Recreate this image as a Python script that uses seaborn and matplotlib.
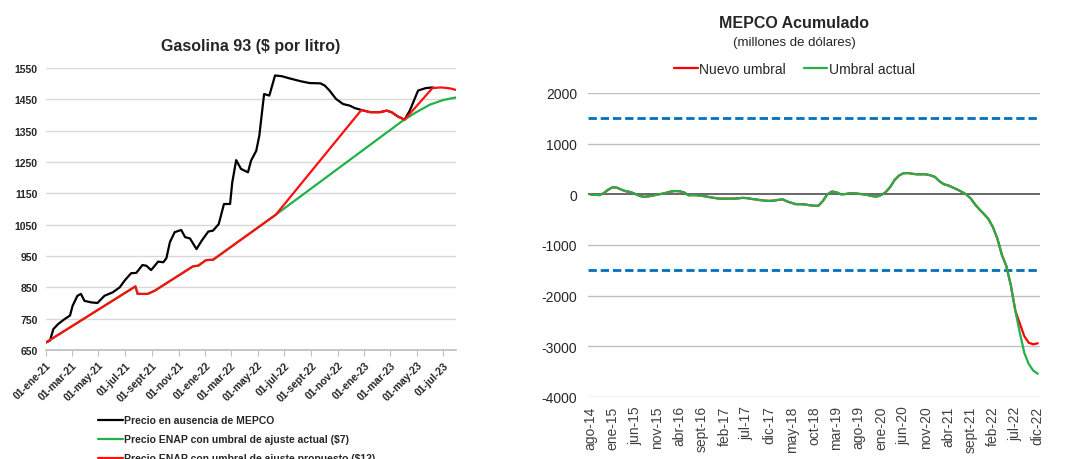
import pandas as pd
import numpy as np
import matplotlib
matplotlib.use("Agg")
import matplotlib.pyplot as plt
import seaborn as sns

# --- DATOS: Gasolina 93 ($ por litro) ---
negro_fechas = [
    "2021-01-01", "2021-01-10", "2021-01-18", "2021-01-29", "2021-02-13", "2021-02-25",
    "2021-03-03", "2021-03-14", "2021-03-22", "2021-03-30", "2021-04-14", "2021-04-29",
    "2021-05-15", "2021-06-03", "2021-06-19", "2021-06-30", "2021-07-15", "2021-07-27",
    "2021-08-10", "2021-08-19", "2021-08-30", "2021-09-15", "2021-09-27", "2021-10-04",
    "2021-10-12", "2021-10-23", "2021-11-07", "2021-11-16", "2021-11-27", "2021-12-12",
    "2021-12-24", "2022-01-08", "2022-01-19", "2022-02-01", "2022-02-13", "2022-02-27",
    "2022-03-04", "2022-03-13", "2022-03-24", "2022-04-09", "2022-04-16", "2022-04-28",
    "2022-05-05", "2022-05-16", "2022-05-28", "2022-06-10", "2022-06-25", "2022-07-13",
    "2022-08-07", "2022-08-28", "2022-09-22", "2022-10-02", "2022-10-13", "2022-10-28",
    "2022-11-13", "2022-11-28", "2022-12-10", "2022-12-25", "2023-01-14", "2023-02-06",
    "2023-02-21", "2023-03-04", "2023-03-19", "2023-04-03", "2023-04-15", "2023-05-04",
    "2023-05-22", "2023-06-07",
]
negro_valores = [
    674, 680, 717, 733, 749, 760,
    791, 823, 829, 807, 802, 800,
    823, 834, 850, 871, 895, 896,
    921, 919, 905, 932, 930, 943,
    994, 1026, 1033, 1010, 1006, 972,
    999, 1028, 1031, 1052, 1116, 1116,
    1185, 1256, 1228, 1217, 1254, 1286,
    1334, 1467, 1462, 1526, 1524, 1517,
    1508, 1502, 1501, 1494, 1478, 1451,
    1435, 1430, 1422, 1416, 1409, 1409,
    1414, 1409, 1395, 1385, 1414, 1478,
    1486, 1488,
]

rojo_fechas = [
    "2021-01-01", "2021-07-25", "2021-07-30", "2021-08-22", "2021-09-07", "2021-12-04",
    "2021-12-16", "2022-01-03", "2022-01-19", "2022-06-12", "2022-12-25", "2023-01-14",
    "2023-02-06", "2023-02-21", "2023-03-04", "2023-03-19", "2023-04-03", "2023-06-06",
    "2023-06-26", "2023-07-16", "2023-07-30",
]
rojo_valores = [
    674, 853, 829, 829, 839, 917,
    919, 937, 938, 1082, 1416, 1409,
    1409, 1414, 1409, 1395, 1385, 1486,
    1488, 1485, 1480,
]

verde_fechas = [
    "2021-01-01", "2021-07-25", "2021-07-30", "2021-08-22", "2021-09-07", "2021-12-04",
    "2021-12-16", "2022-01-03", "2022-01-19", "2022-06-12", "2023-03-30", "2023-04-30",
    "2023-05-31", "2023-07-01", "2023-07-30",
]
verde_valores = [
    674, 853, 829, 829, 839, 917,
    919, 937, 938, 1082, 1382, 1409,
    1433, 1448, 1456,
]

ticks_izq = ["2021-01-01", "2021-03-01", "2021-05-01", "2021-07-01", "2021-09-01", "2021-11-01",
             "2022-01-01", "2022-03-01", "2022-05-01", "2022-07-01", "2022-09-01", "2022-11-01",
             "2023-01-01", "2023-03-01", "2023-05-01", "2023-07-01"]
etiquetas_izq = ["01-ene-21", "01-mar-21", "01-may-21", "01-jul-21", "01-sept-21", "01-nov-21",
                 "01-ene-22", "01-mar-22", "01-may-22", "01-jul-22", "01-sept-22", "01-nov-22",
                 "01-ene-23", "01-mar-23", "01-may-23", "01-jul-23"]
yticks_izq = [650, 750, 850, 950, 1050, 1150, 1250, 1350, 1450, 1550]

# --- DATOS: MEPCO Acumulado (millones de dolares), mensual ago-14 a dic-22 ---
umbral_actual = [
    0, -10, -15, 20, 90, 140, 130, 90, 60, 45,
    10, -30, -50, -40, -25, -5, 10, 30, 55, 65,
    60, 35, -20, -15, -20, -30, -45, -60, -75, -85,
    -85, -85, -85, -80, -70, -75, -90, -100, -115, -125,
    -130, -125, -110, -100, -140, -170, -195, -195, -200, -215,
    -225, -225, -130, 0, 55, 40, 0, 5, 20, 20,
    10, 0, -15, -35, -45, -15, 40, 140, 280, 370,
    415, 420, 405, 395, 395, 395, 375, 345, 260, 200,
    175, 135, 95, 50, 0, -80, -200, -300, -390, -490,
    -650, -880, -1200, -1420, -1800, -2300, -2730, -3130, -3350, -3480,
    -3540,
]
nuevo_umbral = umbral_actual[:96] + [-2550, -2800, -2930, -2960, -2940]

meses_abrev = ["ene", "feb", "mar", "abr", "may", "jun", "jul", "ago", "sept", "oct", "nov", "dic"]
banda = 1500

# meses consecutivos desde ago-2014
meses = []
for i in range(len(umbral_actual)):
    m = (7 + i) % 12
    a = 14 + (7 + i) // 12
    meses.append(f"{meses_abrev[m]}-{a}")

sns.set_theme(style="white")
plt.rcParams['font.family'] = ['Liberation Sans', 'DejaVu Sans']

fig = plt.figure(figsize=(10.65, 4.6), dpi=100)
ax1 = fig.add_axes([0.0432, 0.237, 0.385, 0.613])
ax2 = fig.add_axes([0.5521, 0.1348, 0.4244, 0.6609])

# --- Grafico izquierdo ---
df_n = pd.DataFrame({"fecha": pd.to_datetime(negro_fechas), "valor": negro_valores})
df_v = pd.DataFrame({"fecha": pd.to_datetime(verde_fechas), "valor": verde_valores})
df_r = pd.DataFrame({"fecha": pd.to_datetime(rojo_fechas), "valor": rojo_valores})

sns.lineplot(data=df_n, x="fecha", y="valor", ax=ax1, color="black", lw=1.6,
             label="Precio en ausencia de MEPCO")
sns.lineplot(data=df_v, x="fecha", y="valor", ax=ax1, color="#22B04B", lw=1.6,
             label="Precio ENAP con umbral de ajuste actual ($7)")
sns.lineplot(data=df_r, x="fecha", y="valor", ax=ax1, color="#FF1010", lw=1.6,
             label="Precio ENAP con umbral de ajuste propuesto ($12)")

ax1.set_xlim(pd.Timestamp("2021-01-01"), pd.Timestamp("2023-07-30"))
ax1.set_ylim(650, 1550)
ax1.set_yticks(yticks_izq)
ax1.set_yticklabels([str(v) for v in yticks_izq], fontsize=7.5, fontweight='bold')
ax1.set_xticks(pd.to_datetime(ticks_izq))
ax1.set_xticklabels(etiquetas_izq, fontsize=7.5, fontweight='bold', rotation=45,
                    ha='right', rotation_mode='anchor')
ax1.tick_params(axis='x', length=4, width=0.8, color='#BFBFBF', pad=3, bottom=True)
ax1.tick_params(axis='y', length=0, pad=6)
ax1.grid(axis='y', color='#D9D9D9', lw=1)
ax1.grid(axis='x', visible=False)
for s in ['top', 'right', 'left']:
    ax1.spines[s].set_visible(False)
ax1.spines['bottom'].set_color('#BFBFBF')
ax1.set_xlabel("")
ax1.set_ylabel("")
ax1.set_title("Gasolina 93 ($ por litro)", fontsize=11.5, fontweight='bold', pad=13)

h1, l1 = ax1.get_legend_handles_labels()
ax1.get_legend().remove()
fig.legend(h1, l1, loc='upper left', bbox_to_anchor=(0.092, 0.095), frameon=False,
           prop={'size': 7.5, 'weight': 'bold'}, handlelength=2.4, handletextpad=0.1,
           labelspacing=0.86, borderpad=0, borderaxespad=0)

# --- Grafico derecho ---
df_m = pd.DataFrame({"idx": np.arange(len(meses)), "actual": umbral_actual, "nuevo": nuevo_umbral})

for y in [-4000, -3000, -2000, -1000, 1000, 2000]:
    ax2.axhline(y, color='#BFBFBF', lw=1, zorder=0)
ax2.axhline(0, color='#404040', lw=1.1, zorder=1)
ax2.axhline(banda, color='#0070C0', lw=2, ls=(0, (3, 1.4)), zorder=1)
ax2.axhline(-banda, color='#0070C0', lw=2, ls=(0, (3, 1.4)), zorder=1)

sns.lineplot(data=df_m, x="idx", y="nuevo", ax=ax2, color="#FF0000", lw=1.6, label="Nuevo umbral")
sns.lineplot(data=df_m, x="idx", y="actual", ax=ax2, color="#22B04B", lw=1.6, label="Umbral actual")

ax2.set_xlim(-0.5, len(meses) - 0.5)
ax2.set_ylim(-4000, 2000)
ax2.set_yticks(range(-4000, 2001, 1000))
ax2.set_yticklabels([str(v) for v in range(-4000, 2001, 1000)], fontsize=10, color='#262626')
pos = list(range(0, len(meses), 5))
ax2.set_xticks(pos)
ax2.set_xticklabels([meses[p] for p in pos], fontsize=10, rotation=90, color='#404040')
ax2.tick_params(axis='both', length=0)
ax2.tick_params(axis='y', pad=8)
ax2.tick_params(axis='x', pad=6)
for s in ax2.spines.values():
    s.set_visible(False)
ax2.grid(False)
ax2.set_xlabel("")
ax2.set_ylabel("")
ax2.legend(loc='center', bbox_to_anchor=(0.746, 0.848), bbox_transform=fig.transFigure, ncol=2,
           frameon=False, fontsize=10, handlelength=1.7, handletextpad=0.1, columnspacing=1.3)

fig.text(0.746, 0.95, "MEPCO Acumulado", ha='center', va='center', fontsize=11.5, fontweight='bold')
fig.text(0.746, 0.906, "(millones de dólares)", ha='center', va='center', fontsize=9.5)

fig.savefig("out.png", dpi=100)
